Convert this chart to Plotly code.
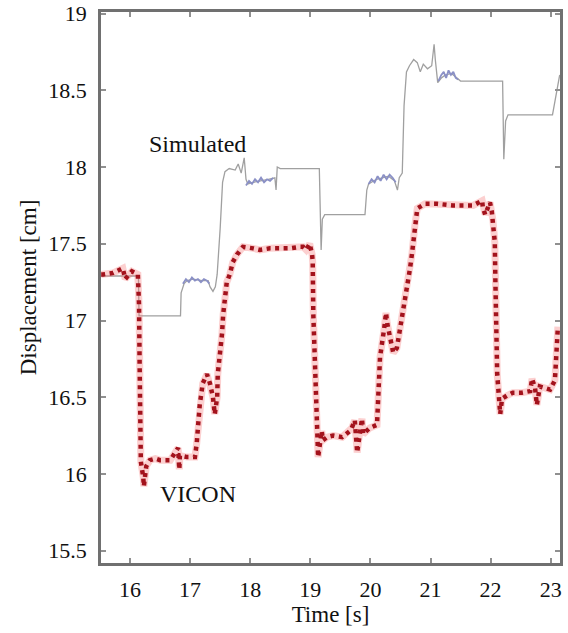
import plotly.graph_objects as go

# ---- data ----
vicon_t = [15.52, 15.55, 15.72, 15.88, 15.92, 16.03, 16.13, 16.15, 16.16, 16.17, 16.18, 16.22, 16.23,
           16.27, 16.33, 16.42, 16.50, 16.67, 16.75, 16.80, 16.82, 16.83, 16.95, 17.08, 17.11, 17.16,
           17.21, 17.28, 17.33, 17.38, 17.41, 17.45, 17.46, 17.50, 17.53, 17.55, 17.58, 17.61, 17.66,
           17.71, 17.78, 17.88, 18.05, 18.16, 18.33, 18.50, 18.66, 18.83, 18.88, 18.93, 18.99, 19.03,
           19.04, 19.05, 19.08, 19.11, 19.13, 19.19, 19.21, 19.28, 19.38, 19.53, 19.66, 19.69, 19.74,
           19.78, 19.83, 19.86, 19.88, 19.99, 20.11, 20.13, 20.16, 20.23, 20.26, 20.28, 20.33, 20.38,
           20.44, 20.49, 20.54, 20.61, 20.66, 20.69, 20.74, 20.78, 20.91, 21.11, 21.37, 21.71, 21.86,
           21.87, 21.91, 21.99, 22.02, 22.04, 22.07, 22.08, 22.09, 22.11, 22.16, 22.19, 22.27, 22.37,
           22.52, 22.66, 22.69, 22.74, 22.77, 22.82, 22.99, 23.07, 23.10, 23.12]
vicon_y = [17.30, 17.30, 17.31, 17.34, 17.27, 17.32, 17.30, 17.10, 16.70, 16.40, 16.08, 15.98, 15.92,
           16.05, 16.09, 16.10, 16.09, 16.09, 16.14, 16.17, 16.03, 16.12, 16.11, 16.11, 16.20, 16.45,
           16.59, 16.65, 16.59, 16.50, 16.39, 16.50, 16.65, 16.78, 16.91, 17.04, 17.17, 17.25, 17.30,
           17.38, 17.43, 17.48, 17.47, 17.46, 17.47, 17.47, 17.47, 17.48, 17.48, 17.46, 17.50, 17.43,
           17.38, 17.04, 16.61, 16.30, 16.11, 16.28, 16.22, 16.24, 16.25, 16.24, 16.28, 16.30, 16.35,
           16.14, 16.30, 16.36, 16.26, 16.30, 16.32, 16.50, 16.76, 16.95, 17.05, 16.98, 16.89, 16.79,
           16.82, 16.93, 17.08, 17.21, 17.34, 17.43, 17.62, 17.73, 17.76, 17.76, 17.75, 17.75, 17.78,
           17.74, 17.69, 17.77, 17.71, 17.65, 17.51, 17.25, 16.95, 16.65, 16.39, 16.49, 16.51, 16.53,
           16.53, 16.54, 16.62, 16.56, 16.45, 16.57, 16.55, 16.61, 16.82, 16.96]

sim_t = [15.52, 16.14, 16.15, 16.84, 16.85, 16.90, 16.95, 17.05, 17.20, 17.30, 17.33, 17.38, 17.42,
         17.45, 17.50, 17.54, 17.58, 17.65, 17.75, 17.80, 17.85, 17.90, 17.93, 17.96, 18.05, 18.15,
         18.30, 18.41, 18.43, 18.45, 18.50, 19.15, 19.16, 19.18, 19.20, 19.24, 19.91, 19.94, 19.97,
         20.10, 20.20, 20.30, 20.40, 20.45, 20.48, 20.53, 20.56, 20.60, 20.65, 20.72, 20.78, 20.83,
         20.88, 20.95, 21.02, 21.06, 21.08, 21.12, 21.18, 21.25, 21.35, 21.45, 21.50, 22.20, 22.22,
         22.25, 22.29, 23.03, 23.08, 23.12, 23.15]
sim_y = [17.29, 17.29, 17.03, 17.03, 17.18, 17.24, 17.26, 17.27, 17.26, 17.26, 17.22, 17.19, 17.22,
         17.30, 17.60, 17.90, 17.97, 17.99, 17.98, 18.02, 17.96, 18.06, 17.92, 17.89, 17.90, 17.91,
         17.92, 17.93, 17.85, 18.00, 17.99, 17.99, 17.70, 17.46, 17.66, 17.69, 17.69, 17.85, 17.89,
         17.92, 17.93, 17.94, 17.91, 17.85, 17.93, 17.96, 18.40, 18.62, 18.66, 18.70, 18.68, 18.62,
         18.67, 18.64, 18.66, 18.80, 18.70, 18.55, 18.58, 18.60, 18.61, 18.58, 18.56, 18.56, 18.05,
         18.30, 18.34, 18.34, 18.45, 18.52, 18.60]

# bluish noisy pieces of the simulated curve
noise_segments = [
    ([16.88, 16.93, 16.98, 17.03, 17.08, 17.13, 17.18, 17.23, 17.28, 17.32],
     [17.24, 17.27, 17.25, 17.28, 17.26, 17.27, 17.25, 17.27, 17.26, 17.24]),
    ([17.93, 17.98, 18.03, 18.08, 18.13, 18.18, 18.23, 18.28, 18.33, 18.38],
     [17.88, 17.91, 17.89, 17.92, 17.90, 17.93, 17.90, 17.92, 17.91, 17.93]),
    ([19.97, 20.02, 20.07, 20.12, 20.17, 20.22, 20.27, 20.32, 20.37, 20.42],
     [17.89, 17.92, 17.90, 17.94, 17.91, 17.95, 17.92, 17.95, 17.93, 17.90]),
    ([21.13, 21.18, 21.22, 21.26, 21.30, 21.34, 21.38, 21.42, 21.46],
     [18.56, 18.60, 18.62, 18.58, 18.63, 18.60, 18.62, 18.58, 18.57]),
]

x_ticks = [16, 17, 18, 19, 20, 21, 22, 23]
y_ticks = [15.5, 16, 16.5, 17, 17.5, 18, 18.5, 19]
y_tick_text = ["15.5", "16", "16.5", "17", "17.5", "18", "18.5", "19"]

FONT = "Liberation Serif"

fig = go.Figure()

# Simulated (thin grey line)
fig.add_trace(go.Scatter(x=sim_t, y=sim_y, mode="lines",
                         line=dict(color="#a0a0a0", width=1.3), hoverinfo="skip",
                         showlegend=False))
for seg_t, seg_y in noise_segments:
    fig.add_trace(go.Scatter(x=seg_t, y=seg_y, mode="lines",
                             line=dict(color="#8a90c6", width=1.8), hoverinfo="skip",
                             showlegend=False))

# VICON (red dotted line with light pink halo)
fig.add_trace(go.Scatter(x=vicon_t, y=vicon_y, mode="lines",
                         line=dict(color="rgba(245,120,120,0.35)", width=7),
                         hoverinfo="skip", showlegend=False))
fig.add_trace(go.Scatter(x=vicon_t, y=vicon_y, mode="lines",
                         line=dict(color="#a3121c", width=4.5, dash="4px,4.5px"),
                         showlegend=False))

fig.add_annotation(x=17.115, y=18.15, text="Simulated", showarrow=False,
                   font=dict(family=FONT, size=24, color="#111"))
fig.add_annotation(x=17.13, y=15.87, text="VICON", showarrow=False,
                   font=dict(family=FONT, size=24, color="#111"))

axis_common = dict(showgrid=False, zeroline=False, showline=True, mirror="ticks",
                   linecolor="#707070", linewidth=2.5, ticks="inside", ticklen=5,
                   tickcolor="#909090", tickwidth=1.5, automargin=False,
                   ticklabeloverflow="allow",
                   tickfont=dict(family=FONT, size=22, color="#111"))

fig.update_xaxes(range=[15.517, 23.155], tickvals=x_ticks,
                 title=dict(text="Time [s]", font=dict(family=FONT, size=23, color="#111"),
                            standoff=0),
                 ticklabelstandoff=5, **axis_common)
fig.update_yaxes(range=[15.42, 19.01], tickvals=y_ticks, ticktext=y_tick_text,
                 title=dict(text="Displacement [cm]", font=dict(family=FONT, size=23, color="#111"),
                            standoff=6),
                 ticklabelstandoff=7, **axis_common)

fig.update_layout(width=568, height=633, margin=dict(l=101, r=8, t=12, b=70),
                  paper_bgcolor="white", plot_bgcolor="white", showlegend=False,
                  font=dict(family=FONT))

# remove the default page margin so the figure sits at the window's top-left corner
fig.write_html("out.html", config={"displayModeBar": False},
               post_script="document.body.style.margin='0';")
